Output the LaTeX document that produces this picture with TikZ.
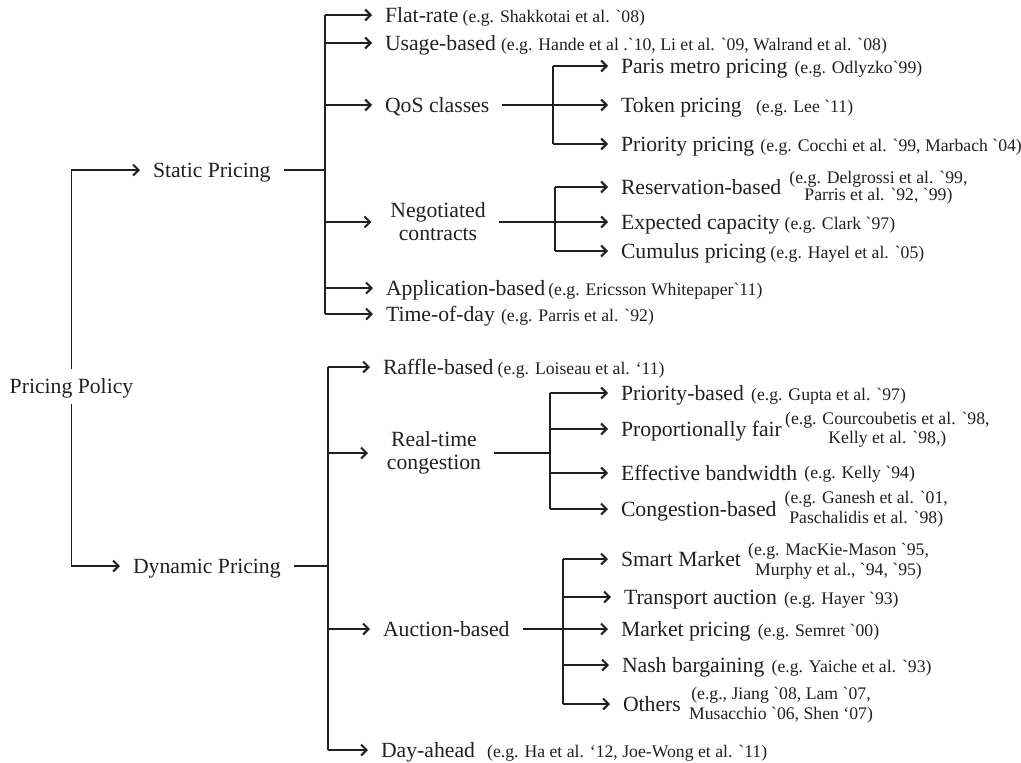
\documentclass[tikz,border=0pt]{standalone}
\usepackage{fontspec}
\setmainfont{Liberation Serif}[Ligatures=TeXOff]
\usetikzlibrary{arrows.meta}
\definecolor{ink}{RGB}{35,31,32}
\begin{document}
\begin{tikzpicture}[x=1pt,y=-1pt,
  lbl/.style={inner sep=0pt, outer sep=0pt, anchor=west, font=\fontsize{21.7}{23}\selectfont, text height=15pt, text depth=0pt, text=ink},
  lblii/.style={inner sep=0pt, outer sep=0pt, anchor=center, align=center, font=\fontsize{21.7}{23}\selectfont, text=ink},
  refi/.style={inner sep=0pt, anchor=base west, font=\fontsize{17.7}{19}\selectfont, text=ink},
  refii/.style={inner sep=0pt, anchor=west, align=center, font=\fontsize{17.7}{19.5}\selectfont, text=ink},
  arr/.style={draw=ink, line width=1.2pt, -{Straight Barb[length=5.5pt,width=11pt,line width=2pt]}, shorten >=13pt},
  lead/.style={draw=ink, line width=1.8pt, shorten <=13pt},
  bar/.style={draw=ink, line width=1.8pt}]
\useasboundingbox (0,0) rectangle (1021,763);

% ---------- level 0 and 1
\node[lbl, anchor=center, inner ysep=10pt] (pp) at (71.5,386) {Pricing Policy};
\node[lbl] (sp) at (153,170) {Static Pricing};
\node[lbl] (dp) at (133,566) {Dynamic Pricing};

% ---------- static children
\node[lbl] (fr)  at (385,15)  {Flat-rate};
\node[lbl] (ub)  at (385,43)  {Usage-based};
\node[lbl] (qos) at (385,105) {QoS classes};
\node[lblii] (neg) at (438,222) {Negotiated\\contracts};
\node[lbl] (app) at (386,288) {Application-based};
\node[lbl] (tod) at (386,314) {Time-of-day};

% QoS children
\node[lbl] (pmp) at (621,66)  {Paris metro pricing};
\node[lbl] (tok) at (621,105) {Token pricing};
\node[lbl] (pri) at (621,144) {Priority pricing};

% negotiated children
\node[lbl] (res) at (621,187) {Reservation-based};
\node[lbl] (exp) at (621,222) {Expected capacity};
\node[lbl] (cum) at (621,251) {Cumulus pricing};

% ---------- dynamic children
\node[lbl] (raf) at (383,367) {Raffle-based};
\node[lblii] (rtc) at (434,453) {Real-time\\congestion};
\node[lbl] (auc) at (383,629) {Auction-based};
\node[lbl] (da)  at (381,750) {Day-ahead};

% real-time children
\node[lbl] (prb) at (621,393) {Priority-based};
\node[lbl] (pf)  at (621,429) {Proportionally fair};
\node[lbl] (eb)  at (621,473) {Effective bandwidth};
\node[lbl] (cb)  at (621,509) {Congestion-based};

% auction children
\node[lbl] (sm)  at (621,559) {Smart Market};
\node[lbl] (ta)  at (624,597) {Transport auction};
\node[lbl] (mp)  at (621,629) {Market pricing};
\node[lbl] (nb)  at (622,665) {Nash bargaining};
\node[lbl] (oth) at (623,704) {Others};

% ---------- references
\node[refi] (rfr)  at ([xshift=4pt]fr.base east)  {(e.g. Shakkotai et al. `08)};
\node[refi] (rub)  at ([xshift=5pt]ub.base east)  {(e.g. Hande et al .`10, Li et al. `09, Walrand et al. `08)};
\node[refi] (rpmp) at ([xshift=7pt]pmp.base east) {(e.g. Odlyzko`99)};
\node[refi] (rtok) at ([xshift=14pt]tok.base east) {(e.g. Lee `11)};
\node[refi] (rpri) at ([xshift=6pt]pri.base east) {(e.g. Cocchi et al. `99, Marbach `04)};
\node[refii, font=\fontsize{17.7}{15}\selectfont] (rres) at ([xshift=8pt,yshift=-0.5pt]res.east) {(e.g. Delgrossi et al. `99,\\Parris et al. `92, `99)};
\node[refi] (rexp) at ([xshift=5pt]exp.base east) {(e.g. Clark `97)};
\node[refi] (rcum) at ([xshift=4pt]cum.base east) {(e.g. Hayel et al. `05)};
\node[refi] (rapp) at ([xshift=3pt]app.base east) {(e.g. Ericsson Whitepaper`11)};
\node[refi] (rtod) at ([xshift=6pt]tod.base east) {(e.g. Parris et al. `92)};
\node[refi] (rraf) at ([xshift=4pt]raf.base east) {(e.g. Loiseau et al. ‘11)};
\node[refi] (rprb) at ([xshift=7pt]prb.base east) {(e.g. Gupta et al. `97)};
\node[refii] (rpf) at ([xshift=3pt,yshift=-1pt]pf.east) {(e.g. Courcoubetis et al. `98,\\Kelly et al. `98,)};
\node[refi] (reb)  at ([xshift=7pt,yshift=2pt]eb.base east)  {(e.g. Kelly `94)};
\node[refii] (rcb) at ([xshift=8pt]cb.east) {(e.g. Ganesh et al. `01,\\Paschalidis et al. `98)};
\node[refii] (rsm) at ([xshift=7pt,yshift=-2.5pt]sm.east) {(e.g. MacKie-Mason `95,\\Murphy et al., `94, `95)};
\node[refi] (rta)  at ([xshift=7pt]ta.base east)  {(e.g. Hayer `93)};
\node[refi] (rmp)  at ([xshift=7pt]mp.base east)  {(e.g. Semret `00)};
\node[refi] (rnb)  at ([xshift=7pt]nb.base east)  {(e.g. Yaiche et al. `93)};
\node[refii] (roth) at ([xshift=8pt,yshift=-1pt]oth.east) {(e.g., Jiang `08, Lam `07,\\Musacchio `06, Shen ‘07)};
\node[refi] (rda)  at ([xshift=12pt]da.base east)  {(e.g. Ha et al. ‘12, Joe-Wong et al. `11)};

% ---------- hubs
\coordinate (hS) at (sp.east -| 325,0);
\coordinate (hQ) at (qos.east -| 553,0);
\coordinate (hN) at (neg.east -| 555,0);
\coordinate (hD) at (dp.east -| 328,0);
\coordinate (hR) at (rtc.east -| 550,0);
\coordinate (hA) at (auc.east -| 563,0);

% ---------- connectors
\draw[arr] (pp.north) |- (sp.west);
\draw[arr] (pp.south) |- (dp.west);

\draw[lead] (sp.east) -- (hS);
\draw[bar] (hS |- fr.west) -- (hS |- tod.west);
\foreach \n in {fr,ub,qos,app,tod} \draw[arr] (hS |- \n.west) -- (\n.west);
\draw[arr, shorten >=19pt] (hS |- neg.west) -- (neg.west);

\draw[lead] (qos.east) -- (hQ);
\draw[bar] (hQ |- pmp.west) -- (hQ |- pri.west);
\foreach \n in {pmp,tok,pri} \draw[arr] (hQ |- \n.west) -- (\n.west);

\draw[lead] (neg.east) -- (hN);
\draw[bar] (hN |- res.west) -- (hN |- cum.west);
\foreach \n in {res,exp,cum} \draw[arr] (hN |- \n.west) -- (\n.west);

\draw[lead] (dp.east) -- (hD);
\draw[bar] (hD |- raf.west) -- (hD |- da.west);
\foreach \n in {raf,auc,da} \draw[arr] (hD |- \n.west) -- (\n.west);
\draw[arr, shorten >=19pt] (hD |- rtc.west) -- (rtc.west);

\draw[lead] (rtc.east) -- (hR);
\draw[bar] (hR |- prb.west) -- (hR |- cb.west);
\foreach \n in {prb,pf,eb,cb} \draw[arr] (hR |- \n.west) -- (\n.west);

\draw[lead] (auc.east) -- (hA);
\draw[bar] (hA |- sm.west) -- (hA |- oth.west);
\foreach \n in {sm,ta,mp,nb,oth} \draw[arr] (hA |- \n.west) -- (\n.west);
\end{tikzpicture}
\end{document}
